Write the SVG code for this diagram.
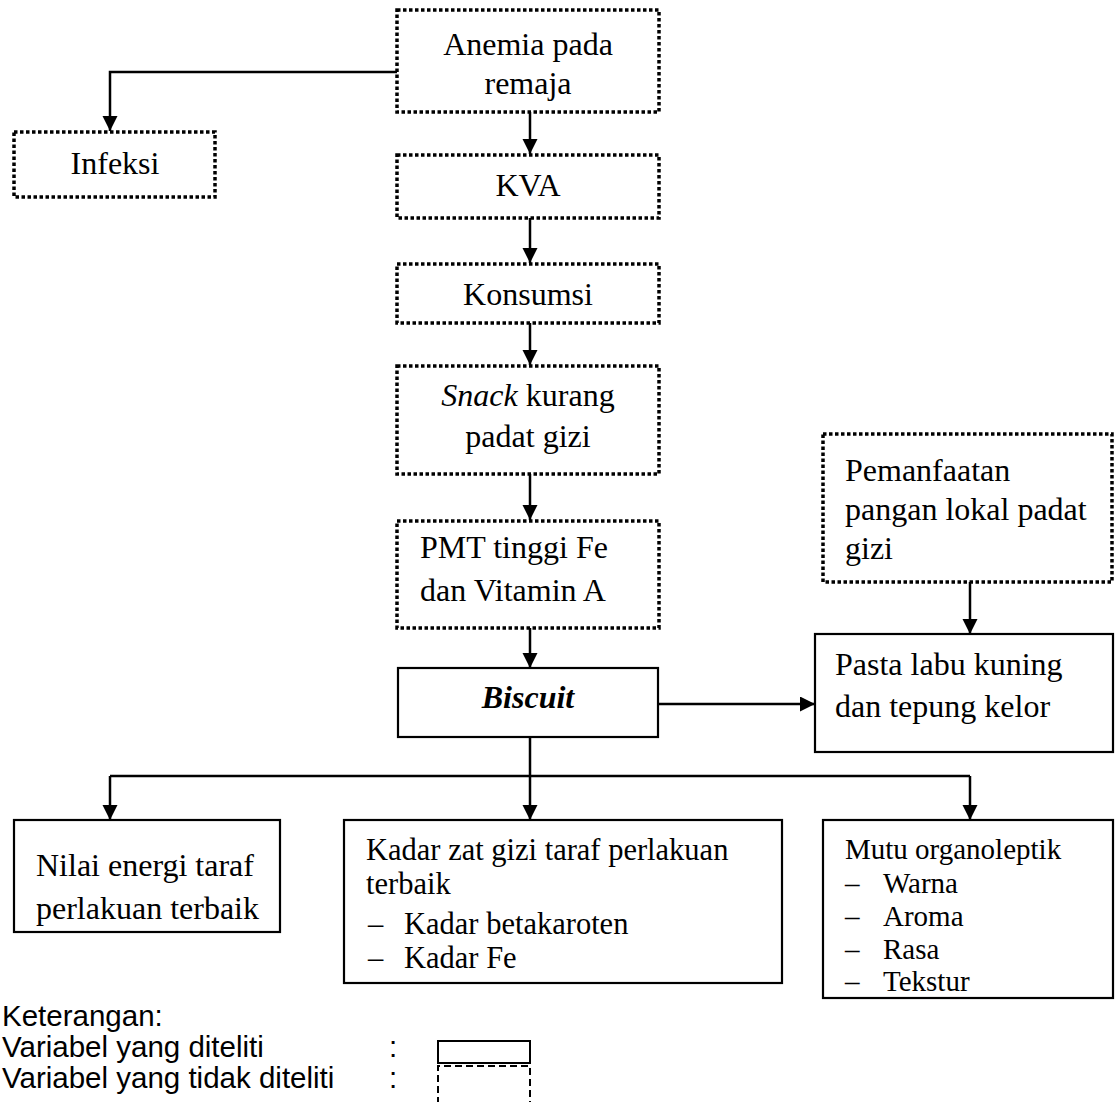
<svg xmlns="http://www.w3.org/2000/svg" width="1115" height="1102" viewBox="0 0 1115 1102">
<style>
.dot{fill:none;stroke:#000;stroke-width:3.5;stroke-dasharray:3.5 2.5}
.sol{fill:#fff;stroke:#000;stroke-width:2.2}
.t{font-family:"Liberation Serif","Times New Roman",serif;font-size:32px;fill:#000}
.k{font-family:"Liberation Serif","Times New Roman",serif;font-size:30.5px;fill:#000}
.s{font-family:"Liberation Serif","Times New Roman",serif;font-size:29px;fill:#000}
.c{text-anchor:middle}
.leg{font-family:"Liberation Sans",Arial,sans-serif;font-size:29.5px;fill:#000}
.ln{fill:none;stroke:#000;stroke-width:2.5}
</style>
<defs>
<marker id="ah" markerUnits="userSpaceOnUse" markerWidth="16" markerHeight="16" refX="15" refY="7.5" orient="auto">
<path d="M0,0 L15,7.5 L0,15 z" fill="#000"/>
</marker>
</defs>
<rect width="1115" height="1102" fill="#fff"/>
<g id="connectors">
<path class="ln" d="M397,72 H110 V131" marker-end="url(#ah)"/>
<path class="ln" d="M530,112 V154" marker-end="url(#ah)"/>
<path class="ln" d="M530,218 V263" marker-end="url(#ah)"/>
<path class="ln" d="M530,323 V365" marker-end="url(#ah)"/>
<path class="ln" d="M530,474 V520" marker-end="url(#ah)"/>
<path class="ln" d="M530,628 V668" marker-end="url(#ah)"/>
<path class="ln" d="M658,704 H815" marker-end="url(#ah)"/>
<path class="ln" d="M970,582 V634" marker-end="url(#ah)"/>
<path class="ln" d="M530,737 V776"/>
<path class="ln" d="M110,776 H970"/>
<path class="ln" d="M110,776 V820" marker-end="url(#ah)"/>
<path class="ln" d="M530,776 V820" marker-end="url(#ah)"/>
<path class="ln" d="M970,776 V820" marker-end="url(#ah)"/>
</g>
<g id="anemia">
<rect class="dot" x="397" y="10" width="262" height="102"/>
<text class="t c" x="528" y="55">Anemia pada</text>
<text class="t c" x="528" y="94">remaja</text>
</g>
<g id="infeksi">
<rect class="dot" x="14" y="132" width="201" height="65"/>
<text class="t c" x="115" y="174">Infeksi</text>
</g>
<g id="kva">
<rect class="dot" x="397" y="155" width="262" height="63"/>
<text class="t c" x="528" y="196">KVA</text>
</g>
<g id="konsumsi">
<rect class="dot" x="397" y="264" width="262" height="59"/>
<text class="t c" x="528" y="305">Konsumsi</text>
</g>
<g id="snack">
<rect class="dot" x="397" y="366" width="262" height="108"/>
<text class="t c" x="528" y="406"><tspan font-style="italic">Snack</tspan> kurang</text>
<text class="t c" x="528" y="447">padat gizi</text>
</g>
<g id="pmt">
<rect class="dot" x="397" y="521" width="262" height="107"/>
<text class="t" x="420" y="558">PMT tinggi Fe</text>
<text class="t" x="420" y="601">dan Vitamin A</text>
</g>
<g id="biscuit">
<rect class="sol" x="398" y="668" width="260" height="69"/>
<text class="t c" x="528" y="708" font-weight="bold" font-style="italic">Biscuit</text>
</g>
<g id="pemanfaatan">
<rect class="dot" x="823" y="434" width="289" height="148"/>
<text class="t" x="845" y="481">Pemanfaatan</text>
<text class="t" x="845" y="520">pangan lokal padat</text>
<text class="t" x="845" y="559">gizi</text>
</g>
<g id="pasta">
<rect class="sol" x="815" y="634" width="298" height="118"/>
<text class="t" x="835" y="675">Pasta labu kuning</text>
<text class="t" x="835" y="717">dan tepung kelor</text>
</g>
<g id="nilai">
<rect class="sol" x="14" y="820" width="266" height="112"/>
<text class="t" x="36" y="876">Nilai energi taraf</text>
<text class="t" x="36" y="919">perlakuan terbaik</text>
</g>
<g id="kadar">
<rect class="sol" x="344" y="820" width="438" height="163"/>
<text class="k" x="366" y="860">Kadar zat gizi taraf perlakuan</text>
<text class="k" x="366" y="894">terbaik</text>
<text class="k" x="368" y="934">–</text>
<text class="k" x="404" y="934">Kadar betakaroten</text>
<text class="k" x="368" y="968">–</text>
<text class="k" x="404" y="968">Kadar Fe</text>
</g>
<g id="mutu">
<rect class="sol" x="823" y="820" width="290" height="178"/>
<text class="s" x="845" y="859">Mutu organoleptik</text>
<text class="s" x="845" y="893">–</text>
<text class="s" x="883" y="893">Warna</text>
<text class="s" x="845" y="926">–</text>
<text class="s" x="883" y="926">Aroma</text>
<text class="s" x="845" y="959">–</text>
<text class="s" x="883" y="959">Rasa</text>
<text class="s" x="845" y="991">–</text>
<text class="s" x="883" y="991">Tekstur</text>
</g>
<g id="legend">
<text class="leg" x="2" y="1026">Keterangan:</text>
<text class="leg" x="2" y="1057">Variabel yang diteliti</text>
<text class="leg" x="2" y="1088">Variabel yang tidak diteliti</text>
<text class="leg" x="389" y="1057">:</text>
<text class="leg" x="389" y="1088">:</text>
<rect x="438" y="1041" width="92" height="22" fill="none" stroke="#000" stroke-width="2"/>
<path d="M438,1104 V1066 H530 V1104" fill="none" stroke="#000" stroke-width="2" stroke-dasharray="7 4"/>
</g>
</svg>
